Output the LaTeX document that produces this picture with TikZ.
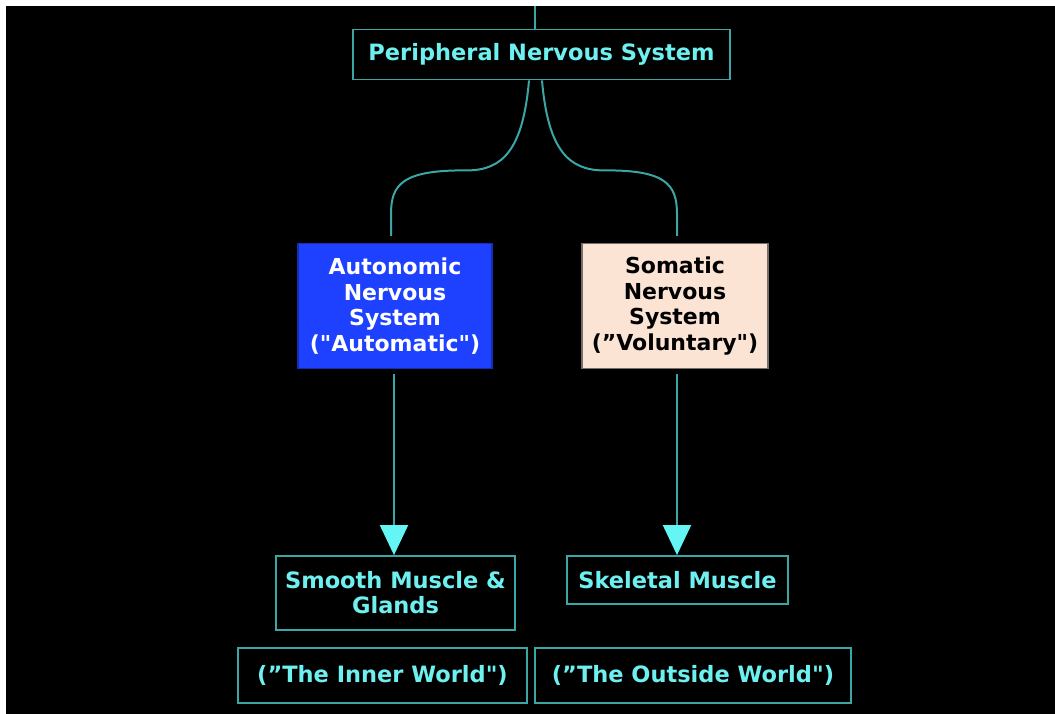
\documentclass[tikz,border=0pt]{standalone}
\usepackage{fontspec}
\setmainfont{DejaVu Sans}[Ligatures=TeXOff]
\usetikzlibrary{arrows.meta,calc}
\definecolor{linecyan}{RGB}{60,165,165}
\definecolor{textcyan}{RGB}{110,240,240}
\definecolor{tipcyan}{RGB}{100,245,245}
\definecolor{ansblue}{RGB}{30,64,255}
\definecolor{peach}{RGB}{252,228,212}
\definecolor{peachedge}{RGB}{120,110,105}
\tikzset{
  outlinebox/.style={draw=linecyan, line width=1.8pt, text=textcyan, align=center,
    inner sep=0pt, font=\bfseries\fontsize{22.5}{25}\selectfont},
  divbox/.style={line width=1.2pt, align=center, inner sep=0pt,
    font=\bfseries\fontsize{22}{25.5}\selectfont},
  link/.style={draw=linecyan, line width=2pt},
  flow/.style={link, -{Triangle[width=28pt,length=30pt,color=tipcyan]}}
}
\begin{document}
\begin{tikzpicture}[x=1pt,y=-1pt]
  % page frame: white rim with a black panel
  \fill[white] (0,0) rectangle (1055,714);
  \fill[black] (6,6) rectangle (1055,714);
  \useasboundingbox (0,0) rectangle (1055,714);

  % boxes
  \node[outlinebox, minimum width=377pt, minimum height=50pt] (pns) at (541.5,54.5) {Peripheral Nervous System};
  \node[divbox, fill=ansblue, draw=ansblue!70!black, text=white, minimum width=194pt, minimum height=125pt] (ans) at (395,306)
    {Autonomic\\Nervous\\System\\("Automatic")};
  \node[divbox, fill=peach, draw=peachedge, text=black, minimum width=186pt, minimum height=125pt] (sns) at (675,306)
    {Somatic\\Nervous\\System\\(”Voluntary")};
  \node[outlinebox, minimum width=239pt, minimum height=74pt] (smooth) at (395.5,593) {Smooth Muscle \&\\Glands};
  \node[outlinebox, minimum width=221pt, minimum height=48pt] (skel) at (677.5,580) {Skeletal Muscle};
  \node[outlinebox, minimum width=289pt, minimum height=55pt] (inner) at (382.5,675.5) {(”The Inner World")};
  \node[outlinebox, minimum width=316pt, minimum height=55pt] (outer) at (693,675.5) {(”The Outside World")};

  % lead-in from above
  \coordinate (in) at (535,6);
  \draw[link] (in) -- (in |- pns.north);

  % the two branches
  \coordinate (pl) at ($(pns.south)+(-12.5,0)$);
  \coordinate (pr) at ($(pns.south)+(0.5,0)$);
  \coordinate (al) at ($(ans.north)+(-4,-7)$);
  \coordinate (ar) at ($(sns.north)+(2,-7)$);
  \draw[link] (pl) .. controls ($(pl)+(-6,70)$) and ($(pl)+(-27,90)$) .. ($(pl)+(-62,90)$)
    .. controls ($(al)+(12,-66)$) and ($(al)+(0,-52)$) .. ($(al)+(0,-22)$) -- (al);
  \draw[link] (pr) .. controls ($(pr)+(6,70)$) and ($(pr)+(27,90)$) .. ($(pr)+(62,90)$)
    .. controls ($(ar)+(-12,-66)$) and ($(ar)+(0,-52)$) .. ($(ar)+(0,-22)$) -- (ar);

  % descending arrows
  \coordinate (la) at ($(ans.south)+(-1,5)$);
  \coordinate (ra) at ($(sns.south)+(2,5)$);
  \draw[flow] (la) -- (la |- smooth.north);
  \draw[flow] (ra) -- (ra |- skel.north);
\end{tikzpicture}
\end{document}
